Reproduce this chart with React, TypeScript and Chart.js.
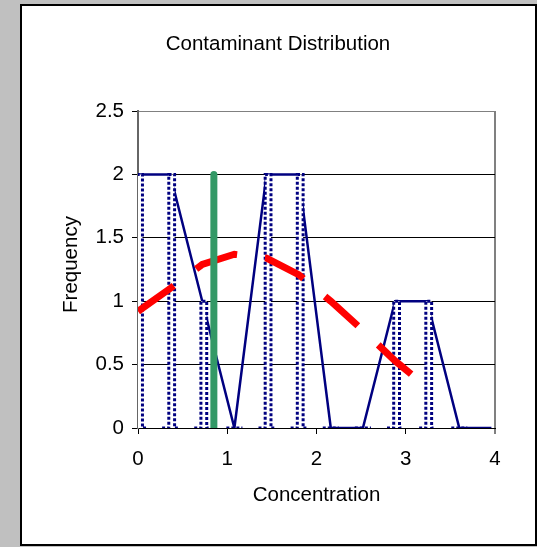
import React, { useEffect, useRef } from "react";
import { Chart, registerables } from "chart.js";

Chart.register(...registerables);

// ---- data ----
const binEdges = [0, 0.36, 0.72, 1.08, 1.44, 1.8, 2.16, 2.52, 2.88, 3.24, 3.6];
const binCounts = [2, 2, 1, 0, 2, 2, 0, 0, 1, 1, 0];
const polygonX = [0, 0.36, 0.72, 1.08, 1.44, 1.8, 2.16, 2.52, 2.88, 3.24, 3.6, 3.96];
const polygonY = [2, 2, 1, 0, 2, 2, 0, 0, 1, 1, 0, 0];
const normalX = [0, 0.36, 0.72, 1.08, 1.44, 1.8, 2.16, 2.52, 2.88, 3.24];
const normalY = [0.92, 1.1, 1.29, 1.37, 1.34, 1.21, 1.0, 0.77, 0.53, 0.32];
const meanX = [0.85, 0.85];
const meanY = [0, 2];
const xTicks = [0, 1, 2, 3, 4];
const yTicks = [0, 0.5, 1, 1.5, 2, 2.5];

const TITLE = "Contaminant Distribution";
const X_TITLE = "Concentration";
const Y_TITLE = "Frequency";

// ---- styles ----
const FONT = "'Liberation Sans', Arial, sans-serif";
const FONT_SIZE = 20.5;
const BAR_LEFT = 0.015;
const BAR_RIGHT = 0.05;
const BASE_HALF = 0.09;

function buildBarOutline() {
  const pts: any[] = [];
  binEdges.forEach((e, i) => {
    const f = binCounts[i];
    pts.push({ x: e - BASE_HALF, y: 0 });
    pts.push({ x: e - BAR_LEFT, y: 0 });
    pts.push({ x: e - BAR_LEFT, y: f });
    pts.push({ x: e + BAR_RIGHT, y: f });
    pts.push({ x: e + BAR_RIGHT, y: 0 });
    pts.push({ x: e + BASE_HALF, y: 0 });
    pts.push({ x: e + BASE_HALF, y: null });
  });
  return pts;
}

const zip = (xs: number[], ys: number[]) => xs.map((x, i) => ({ x, y: ys[i] }));

const textPlugin = {
  id: "excelTexts",
  afterDraw(chart: any) {
    const { ctx, chartArea } = chart;
    ctx.save();
    ctx.fillStyle = "#000";
    ctx.font = `${FONT_SIZE}px ${FONT}`;
    ctx.textAlign = "center";
    ctx.textBaseline = "middle";
    ctx.fillText(TITLE, 278, 44);
    ctx.fillText(X_TITLE, (chartArea.left + chartArea.right) / 2, 495);
    ctx.translate(71, (chartArea.top + chartArea.bottom) / 2 - 5);
    ctx.rotate(-Math.PI / 2);
    ctx.fillText(Y_TITLE, 0, 0);
    ctx.restore();
  },
};

export default function App() {
  const ref = useRef<HTMLCanvasElement | null>(null);

  useEffect(() => {
    if (!ref.current) return;
    const font = { family: FONT, size: FONT_SIZE };
    const chart = new Chart(ref.current, {
      type: "scatter",
      data: {
        datasets: [
          {
            label: "Mean",
            data: zip(meanX, meanY),
            showLine: true,
            borderColor: "#339966",
            borderWidth: 7,
            borderCapStyle: "round",
            pointRadius: 0,
            order: 0,
            clip: { left: 5, top: 5, right: 5, bottom: 0 },
          },
          {
            label: "Normal",
            data: zip(normalX, normalY),
            showLine: true,
            borderColor: "#ff0000",
            borderWidth: 7,
            borderDash: [44, 28],
            borderCapStyle: "butt",
            pointRadius: 0,
            order: 1,
          },
          {
            label: "Histogram",
            data: buildBarOutline(),
            showLine: true,
            spanGaps: false,
            borderColor: "#000080",
            borderWidth: 3,
            borderDash: [3, 2],
            backgroundColor: "#ffffff",
            fill: "origin",
            pointRadius: 0,
            order: 2,
          },
          {
            label: "Polygon",
            data: zip(polygonX, polygonY),
            showLine: true,
            borderColor: "#000080",
            borderWidth: 2.5,
            pointRadius: 0,
            order: 3,
          },
        ],
      },
      options: {
        animation: false,
        responsive: false,
        devicePixelRatio: 1,
        layout: { padding: { top: 111, right: 42, left: 0, bottom: 0 } },
        plugins: {
          legend: { display: false },
          tooltip: { enabled: false },
          title: { display: false },
        },
        scales: {
          x: {
            type: "linear",
            min: 0,
            max: 4,
            afterBuildTicks: (s: any) => {
              s.ticks = xTicks.map((v) => ({ value: v }));
            },
            afterFit: (s: any) => {
              s.height = 119;
            },
            ticks: { color: "#000", font, padding: 13, callback: (v: any) => String(v) },
            grid: {
              color: (c: any) => (c.tick && c.tick.value === 4 ? "#808080" : "rgba(0,0,0,0)"),
              lineWidth: (c: any) => (c.tick && c.tick.value === 4 ? 2 : 1),
              tickColor: "#000",
              tickWidth: 1,
              tickLength: 6,
            },
            border: { color: "#000", width: 1 },
          },
          y: {
            type: "linear",
            min: 0,
            max: 2.5,
            afterBuildTicks: (s: any) => {
              s.ticks = yTicks.map((v) => ({ value: v }));
            },
            afterFit: (s: any) => {
              s.width = 138;
            },
            ticks: { color: "#000", font, padding: 8, callback: (v: any) => String(v) },
            grid: {
              color: (c: any) => (c.tick && c.tick.value === 2.5 ? "#808080" : "#000"),
              lineWidth: 1,
              tickColor: "#000",
              tickLength: 6,
            },
            border: { color: "#666", width: 2 },
          },
        },
      },
      plugins: [textPlugin],
    } as any);
    return () => chart.destroy();
  }, []);

  return (
    <div
      style={{
        position: "fixed",
        left: 0,
        top: 0,
        width: 537,
        height: 547,
        background: "#c0c0c0",
        overflow: "hidden",
      }}
    >
      <div
        style={{
          position: "absolute",
          left: 20,
          top: 4,
          width: 517,
          height: 542,
          background: "#fff",
          border: "2px solid #000",
          boxSizing: "border-box",
        }}
      />
      <canvas
        ref={ref}
        width={537}
        height={547}
        style={{ position: "absolute", left: 0, top: 0 }}
      />
    </div>
  );
}
